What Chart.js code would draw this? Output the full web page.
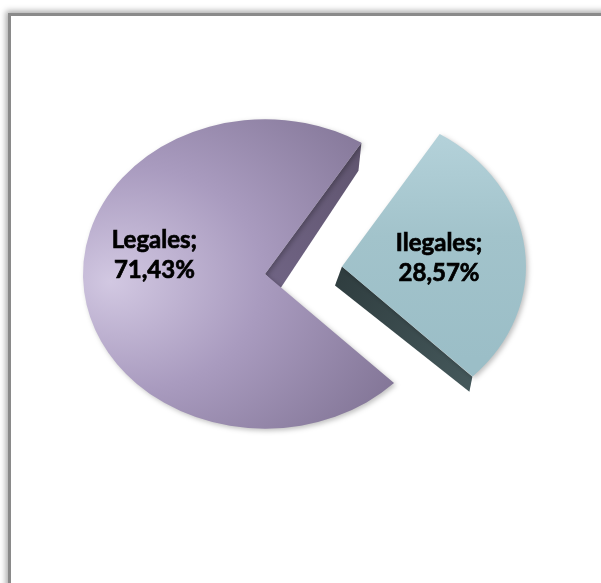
<!DOCTYPE html>
<html><head><meta charset="utf-8">
<script src="https://cdn.jsdelivr.net/npm/chart.js@4"></script>
<style>
html,body{margin:0;padding:0;background:#fff;overflow:hidden;width:601px;height:583px}
#frame{position:absolute;left:8px;top:13px;width:700px;height:700px;border:3px solid #8a8a8a;box-shadow:-2px -2px 6px rgba(0,0,0,0.35);background:#fff}
#wrap{position:absolute;left:0;top:0;width:601px;height:583px}
</style></head><body>
<div id="frame"></div>
<div id="wrap"><canvas id="c" width="601" height="583"></canvas></div>
<script>
// ---- data ----
const categories = ['Ilegales', 'Legales'];
const values = [28.57, 71.43];

// ---- styling ----
const K = 0.85;           // vertical squash of the tilted pie
const RADIUS = 182;
// projected thickness of the cut faces: [at centre x, y, at rim x, y]
const sideShift = [[-7, 19, -3, 15], [15, 15, -3, 28]];
const topColors = [
  ['#b8d5dd', '#a2c3cb', '#9bbec7'],
  ['#d2c8e2', '#a99bbf', '#7f7293']
];
const sideColors = [['#2f3d3f', '#44575a'], ['#6f6383', '#5f546e']];
const labelPlacement = [{shift: 1, frac: 0.53}, {shift: 18, frac: 0.62}];

function fmt(v){ return v.toFixed(2).replace('.', ',') + '%'; }

function fillFor(c){
  const chart = c.chart;
  const ca = chart.chartArea;
  if (!ca) return topColors[c.dataIndex][1];
  const ctx = chart.ctx;
  const x = (ca.left + ca.right) / 2, y = (ca.top + ca.bottom) / 2, r = RADIUS;
  let g;
  if (c.dataIndex === 1) {
    g = ctx.createRadialGradient(x - r * 0.85, y + r * 0.05, 0, x - r * 0.6, y, r * 1.6);
    g.addColorStop(0, topColors[1][0]);
    g.addColorStop(0.45, topColors[1][1]);
    g.addColorStop(1, topColors[1][2]);
  } else {
    g = ctx.createLinearGradient(x, y - r, x, y + r * 0.6);
    g.addColorStop(0, topColors[0][0]);
    g.addColorStop(0.5, topColors[0][1]);
    g.addColorStop(1, topColors[0][2]);
  }
  return g;
}

function arcGeom(el){
  const p = el.getProps(['x','y','startAngle','endAngle','outerRadius','circumference'], true);
  const off = (el.options.offset || 0) / 4;
  const half = (p.startAngle + p.endAngle) / 2;
  const fix = 1 - Math.sin(Math.min(Math.PI, p.circumference || 0));
  return {
    vx: p.x + Math.cos(half) * off,
    vy: p.y + Math.sin(half) * off,
    R: p.outerRadius + off * fix,
    start: p.startAngle, end: p.endAngle, half, cy: p.y
  };
}

const pie3d = {
  id: 'pie3d',
  beforeDatasetsDraw(chart){
    const ctx = chart.ctx;
    const meta = chart.getDatasetMeta(0);
    const cy = meta.data[0].y;
    const T = (px, py) => [px, cy + (py - cy) * K];
    meta.data.forEach((el, i) => {
      const g = arcGeom(el);
      const [sx, sy, rx, ry] = sideShift[i];
      [[g.start, 1], [g.end, -1]].forEach(([a, sgn]) => {
        const V = T(g.vx, g.vy);
        const P = T(g.vx + Math.cos(a) * g.R, g.vy + Math.sin(a) * g.R);
        const ex = P[0] - V[0], ey = P[1] - V[1];
        const nx = -ey * sgn, ny = ex * sgn;
        if (nx * sx + ny * sy > 0) return; // face hidden under the top face
        ctx.save();
        const grd = ctx.createLinearGradient(V[0], V[1], P[0], P[1]);
        grd.addColorStop(0, sideColors[i][0]);
        grd.addColorStop(1, sideColors[i][1]);
        ctx.fillStyle = grd;
        ctx.beginPath();
        ctx.moveTo(V[0], V[1]);
        ctx.lineTo(P[0], P[1]);
        ctx.lineTo(P[0] + rx, P[1] + ry);
        ctx.lineTo(V[0] + sx, V[1] + sy);
        ctx.closePath();
        ctx.fill();
        ctx.restore();
      });
    });
    ctx.save();
    ctx.shadowColor = 'rgba(0,0,0,0.25)';
    ctx.shadowBlur = 5;
    ctx.shadowOffsetX = 2;
    ctx.shadowOffsetY = 2;
    ctx.translate(0, cy);
    ctx.scale(1, K);
    ctx.translate(0, -cy);
  },
  afterDatasetsDraw(chart){
    const ctx = chart.ctx;
    ctx.restore();
    const meta = chart.getDatasetMeta(0);
    const cy = meta.data[0].y;
    ctx.save();
    ctx.fillStyle = '#000';
    ctx.strokeStyle = '#000';
    ctx.lineWidth = 0.7;
    ctx.font = 'bold 24px Lato';
    ctx.textAlign = 'center';
    ctx.textBaseline = 'middle';
    meta.data.forEach((el, i) => {
      const g = arcGeom(el);
      const pl = labelPlacement[i];
      const a = g.half + pl.shift * Math.PI / 180;
      const px = g.vx + Math.cos(a) * g.R * pl.frac;
      const py = g.vy + Math.sin(a) * g.R * pl.frac;
      const sy = cy + (py - cy) * K;
      [[categories[i] + ';', sy - 15], [fmt(values[i]), sy + 15]].forEach(([t, ty]) => {
        ctx.fillText(t, px, ty);
        ctx.strokeText(t, px, ty);
      });
    });
    ctx.restore();
  }
};

new Chart(document.getElementById('c'), {
  type: 'pie',
  data: {
    labels: categories,
    datasets: [{
      data: values,
      backgroundColor: fillFor,
      borderWidth: 0,
      offset: [310, 0],
      radius: RADIUS
    }]
  },
  options: {
    responsive: false,
    animation: false,
    rotation: 32,
    layout: {padding: {left: 0, right: 71, top: 0, bottom: 35}},
    plugins: {legend: {display: false}, tooltip: {enabled: false}}
  },
  plugins: [pie3d]
});
</script>
</body></html>
